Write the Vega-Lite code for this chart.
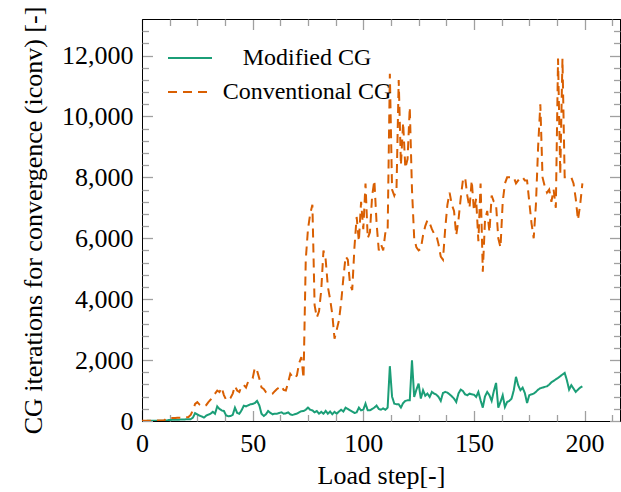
{
  "$schema": "https://vega.github.io/schema/vega-lite/v6.json",
  "width": 478,
  "height": 402,
  "autosize": {"type": "none"},
  "padding": {"left": 142, "top": 19, "right": 1, "bottom": 71},
  "config": {
    "view": {"stroke": "black", "strokeWidth": 1},
    "font": "Times New Roman, Liberation Serif, DejaVu Serif, serif",
    "axis": {"grid": false, "labelFont": "Times New Roman, Liberation Serif, DejaVu Serif, serif", "titleFont": "Times New Roman, Liberation Serif, DejaVu Serif, serif", "labelFontSize": 26, "titleFontSize": 26, "titleFontWeight": "normal", "labelColor": "black", "titleColor": "black", "domainColor": "black", "tickColor": "#a0a0a0", "tickWidth": 1.3, "labelFlush": false, "labelOverlap": false}
  },
  "data": {"values": [
    {"step":0,"Modified CG":0,"Conventional CG":5},{"step":1,"Modified CG":2,"Conventional CG":8},{"step":2,"Modified CG":4,"Conventional CG":10},{"step":3,"Modified CG":5,"Conventional CG":10},{"step":4,"Modified CG":6,"Conventional CG":12},{"step":5,"Modified CG":8,"Conventional CG":12},{"step":6,"Modified CG":8,"Conventional CG":15},{"step":7,"Modified CG":10,"Conventional CG":15},{"step":8,"Modified CG":10,"Conventional CG":18},{"step":9,"Modified CG":12,"Conventional CG":20},
    {"step":10,"Modified CG":12,"Conventional CG":20},{"step":11,"Modified CG":15,"Conventional CG":80},{"step":12,"Modified CG":30,"Conventional CG":90},{"step":13,"Modified CG":35,"Conventional CG":100},{"step":14,"Modified CG":40,"Conventional CG":100},{"step":15,"Modified CG":40,"Conventional CG":100},{"step":16,"Modified CG":45,"Conventional CG":110},{"step":17,"Modified CG":45,"Conventional CG":110},{"step":18,"Modified CG":50,"Conventional CG":100},{"step":19,"Modified CG":50,"Conventional CG":120},
    {"step":20,"Modified CG":55,"Conventional CG":120},{"step":21,"Modified CG":55,"Conventional CG":130},{"step":22,"Modified CG":60,"Conventional CG":200},{"step":23,"Modified CG":110,"Conventional CG":350},{"step":24,"Modified CG":260,"Conventional CG":560},{"step":25,"Modified CG":220,"Conventional CG":620},{"step":26,"Modified CG":175,"Conventional CG":540},{"step":27,"Modified CG":150,"Conventional CG":500},{"step":28,"Modified CG":110,"Conventional CG":480},{"step":29,"Modified CG":175,"Conventional CG":520},
    {"step":30,"Modified CG":210,"Conventional CG":620},{"step":31,"Modified CG":240,"Conventional CG":700},{"step":32,"Modified CG":300,"Conventional CG":820},{"step":33,"Modified CG":240,"Conventional CG":900},{"step":34,"Modified CG":480,"Conventional CG":1000},{"step":35,"Modified CG":395,"Conventional CG":950},{"step":36,"Modified CG":350,"Conventional CG":1100},{"step":37,"Modified CG":330,"Conventional CG":850},{"step":38,"Modified CG":185,"Conventional CG":700},{"step":39,"Modified CG":155,"Conventional CG":680},
    {"step":40,"Modified CG":165,"Conventional CG":760},{"step":41,"Modified CG":200,"Conventional CG":900},{"step":42,"Modified CG":440,"Conventional CG":1150},{"step":43,"Modified CG":265,"Conventional CG":1000},{"step":44,"Modified CG":240,"Conventional CG":950},{"step":45,"Modified CG":350,"Conventional CG":1150},{"step":46,"Modified CG":505,"Conventional CG":1180},{"step":47,"Modified CG":480,"Conventional CG":1100},{"step":48,"Modified CG":515,"Conventional CG":1300},{"step":49,"Modified CG":550,"Conventional CG":1350},
    {"step":50,"Modified CG":560,"Conventional CG":1400},{"step":51,"Modified CG":590,"Conventional CG":1750},{"step":52,"Modified CG":660,"Conventional CG":1650},{"step":53,"Modified CG":515,"Conventional CG":1400},{"step":54,"Modified CG":240,"Conventional CG":1100},{"step":55,"Modified CG":165,"Conventional CG":1050},{"step":56,"Modified CG":220,"Conventional CG":950},{"step":57,"Modified CG":330,"Conventional CG":920},{"step":58,"Modified CG":265,"Conventional CG":880},{"step":59,"Modified CG":220,"Conventional CG":900},
    {"step":60,"Modified CG":240,"Conventional CG":980},{"step":61,"Modified CG":240,"Conventional CG":1050},{"step":62,"Modified CG":265,"Conventional CG":1100},{"step":63,"Modified CG":285,"Conventional CG":1150},{"step":64,"Modified CG":240,"Conventional CG":1020},{"step":65,"Modified CG":250,"Conventional CG":1000},{"step":66,"Modified CG":285,"Conventional CG":1250},{"step":67,"Modified CG":220,"Conventional CG":1550},{"step":68,"Modified CG":200,"Conventional CG":1450},{"step":69,"Modified CG":220,"Conventional CG":1400},
    {"step":70,"Modified CG":240,"Conventional CG":1500},{"step":71,"Modified CG":285,"Conventional CG":1900},{"step":72,"Modified CG":320,"Conventional CG":2100},{"step":73,"Modified CG":330,"Conventional CG":1400},{"step":74,"Modified CG":370,"Conventional CG":5300},{"step":75,"Modified CG":440,"Conventional CG":6300},{"step":76,"Modified CG":370,"Conventional CG":6800},{"step":77,"Modified CG":350,"Conventional CG":7100},{"step":78,"Modified CG":285,"Conventional CG":3800},{"step":79,"Modified CG":330,"Conventional CG":3400},
    {"step":80,"Modified CG":240,"Conventional CG":3600},{"step":81,"Modified CG":300,"Conventional CG":4300},{"step":82,"Modified CG":240,"Conventional CG":5600},{"step":83,"Modified CG":330,"Conventional CG":5300},{"step":84,"Modified CG":240,"Conventional CG":4400},{"step":85,"Modified CG":310,"Conventional CG":4000},{"step":86,"Modified CG":220,"Conventional CG":3500},{"step":87,"Modified CG":300,"Conventional CG":2700},{"step":88,"Modified CG":240,"Conventional CG":3000},{"step":89,"Modified CG":310,"Conventional CG":3300},
    {"step":90,"Modified CG":370,"Conventional CG":3900},{"step":91,"Modified CG":310,"Conventional CG":4700},{"step":92,"Modified CG":440,"Conventional CG":5400},{"step":93,"Modified CG":395,"Conventional CG":5300},{"step":94,"Modified CG":350,"Conventional CG":4500},{"step":95,"Modified CG":310,"Conventional CG":4300},{"step":96,"Modified CG":265,"Conventional CG":5700},{"step":97,"Modified CG":285,"Conventional CG":6700},{"step":98,"Modified CG":440,"Conventional CG":5900},{"step":99,"Modified CG":350,"Conventional CG":7200},
    {"step":100,"Modified CG":370,"Conventional CG":6300},{"step":101,"Modified CG":570,"Conventional CG":7800},{"step":102,"Modified CG":350,"Conventional CG":6000},{"step":103,"Modified CG":350,"Conventional CG":6200},{"step":104,"Modified CG":395,"Conventional CG":7400},{"step":105,"Modified CG":440,"Conventional CG":7900},{"step":106,"Modified CG":505,"Conventional CG":6500},{"step":107,"Modified CG":395,"Conventional CG":5600},{"step":108,"Modified CG":370,"Conventional CG":5800},{"step":109,"Modified CG":415,"Conventional CG":5600},
    {"step":110,"Modified CG":370,"Conventional CG":6200},{"step":111,"Modified CG":440,"Conventional CG":6200},{"step":112,"Modified CG":1800,"Conventional CG":11400},{"step":113,"Modified CG":800,"Conventional CG":7600},{"step":114,"Modified CG":570,"Conventional CG":7400},{"step":115,"Modified CG":550,"Conventional CG":7600},{"step":116,"Modified CG":550,"Conventional CG":11200},{"step":117,"Modified CG":440,"Conventional CG":8400},{"step":118,"Modified CG":590,"Conventional CG":9800},{"step":119,"Modified CG":660,"Conventional CG":8300},
    {"step":120,"Modified CG":680,"Conventional CG":8600},{"step":121,"Modified CG":680,"Conventional CG":10300},{"step":122,"Modified CG":1995,"Conventional CG":7600},{"step":123,"Modified CG":790,"Conventional CG":6000},{"step":124,"Modified CG":1030,"Conventional CG":5700},{"step":125,"Modified CG":1230,"Conventional CG":5600},{"step":126,"Modified CG":735,"Conventional CG":5650},{"step":127,"Modified CG":1010,"Conventional CG":6100},{"step":128,"Modified CG":830,"Conventional CG":6400},{"step":129,"Modified CG":900,"Conventional CG":6600},
    {"step":130,"Modified CG":790,"Conventional CG":6500},{"step":131,"Modified CG":955,"Conventional CG":6300},{"step":132,"Modified CG":900,"Conventional CG":6150},{"step":133,"Modified CG":865,"Conventional CG":6100},{"step":134,"Modified CG":790,"Conventional CG":5800},{"step":135,"Modified CG":660,"Conventional CG":5400},{"step":136,"Modified CG":920,"Conventional CG":5300},{"step":137,"Modified CG":955,"Conventional CG":6300},{"step":138,"Modified CG":930,"Conventional CG":7100},{"step":139,"Modified CG":875,"Conventional CG":7500},
    {"step":140,"Modified CG":810,"Conventional CG":7100},{"step":141,"Modified CG":735,"Conventional CG":6900},{"step":142,"Modified CG":625,"Conventional CG":6100},{"step":143,"Modified CG":900,"Conventional CG":6600},{"step":144,"Modified CG":1030,"Conventional CG":7300},{"step":145,"Modified CG":985,"Conventional CG":7900},{"step":146,"Modified CG":875,"Conventional CG":8000},{"step":147,"Modified CG":845,"Conventional CG":7400},{"step":148,"Modified CG":900,"Conventional CG":7000},{"step":149,"Modified CG":875,"Conventional CG":7900},
    {"step":150,"Modified CG":865,"Conventional CG":6900},{"step":151,"Modified CG":790,"Conventional CG":7300},{"step":152,"Modified CG":955,"Conventional CG":5900},{"step":153,"Modified CG":680,"Conventional CG":7800},{"step":154,"Modified CG":440,"Conventional CG":4900},{"step":155,"Modified CG":810,"Conventional CG":6600},{"step":156,"Modified CG":955,"Conventional CG":6900},{"step":157,"Modified CG":845,"Conventional CG":6200},{"step":158,"Modified CG":660,"Conventional CG":7400},{"step":159,"Modified CG":985,"Conventional CG":7200},
    {"step":160,"Modified CG":1250,"Conventional CG":7100},{"step":161,"Modified CG":440,"Conventional CG":6000},{"step":162,"Modified CG":625,"Conventional CG":5700},{"step":163,"Modified CG":845,"Conventional CG":7200},{"step":164,"Modified CG":460,"Conventional CG":7800},{"step":165,"Modified CG":625,"Conventional CG":8000},{"step":166,"Modified CG":660,"Conventional CG":8000},{"step":167,"Modified CG":735,"Conventional CG":8000},{"step":168,"Modified CG":1010,"Conventional CG":8000},{"step":169,"Modified CG":1450,"Conventional CG":7800},
    {"step":170,"Modified CG":1175,"Conventional CG":7900},{"step":171,"Modified CG":1010,"Conventional CG":8000},{"step":172,"Modified CG":1095,"Conventional CG":8000},{"step":173,"Modified CG":920,"Conventional CG":7900},{"step":174,"Modified CG":590,"Conventional CG":7900},{"step":175,"Modified CG":845,"Conventional CG":7200},{"step":176,"Modified CG":875,"Conventional CG":6500},{"step":177,"Modified CG":900,"Conventional CG":6000},{"step":178,"Modified CG":955,"Conventional CG":7100},{"step":179,"Modified CG":1030,"Conventional CG":9000},
    {"step":180,"Modified CG":1075,"Conventional CG":10400},{"step":181,"Modified CG":1095,"Conventional CG":8000},{"step":182,"Modified CG":1120,"Conventional CG":7700},{"step":183,"Modified CG":1140,"Conventional CG":7500},{"step":184,"Modified CG":1195,"Conventional CG":7600},{"step":185,"Modified CG":1270,"Conventional CG":7200},{"step":186,"Modified CG":1315,"Conventional CG":7600},{"step":187,"Modified CG":1370,"Conventional CG":7000},{"step":188,"Modified CG":1415,"Conventional CG":11900},{"step":189,"Modified CG":1470,"Conventional CG":8100},
    {"step":190,"Modified CG":1525,"Conventional CG":11900},{"step":191,"Modified CG":1580,"Conventional CG":8000},{"step":192,"Modified CG":1340,"Conventional CG":8000},{"step":193,"Modified CG":1030,"Conventional CG":8000},{"step":194,"Modified CG":1175,"Conventional CG":8000},{"step":195,"Modified CG":1065,"Conventional CG":7800},{"step":196,"Modified CG":955,"Conventional CG":7300},{"step":197,"Modified CG":1030,"Conventional CG":6600},{"step":198,"Modified CG":1095,"Conventional CG":7100},{"step":199,"Modified CG":1140,"Conventional CG":7800}
  ]},
  "transform": [{"fold": ["Modified CG", "Conventional CG"], "as": ["series", "value"]}],
  "resolve": {"axis": {"x": "independent", "y": "independent"}},
  "layer": [
    {
      "mark": {"type": "line", "strokeWidth": 2, "clip": true},
      "encoding": {
        "x": {"field": "step", "type": "quantitative", "scale": {"domain": [0, 216], "nice": false, "zero": false},
          "axis": {"orient": "bottom", "values": [0, 50, 100, 150, 200], "tickSize": -10.5, "labelPadding": 19.5, "title": "Load step[-]", "titlePadding": 6}},
        "y": {"field": "value", "type": "quantitative", "scale": {"domain": [0, 13200], "nice": false},
          "axis": {"orient": "left", "values": [0, 2000, 4000, 6000, 8000, 10000, 12000], "labelExpr": "format(datum.value, ',')", "tickSize": -10.5, "labelPadding": 19.5, "title": "CG iterations for convergence (iconv) [-]", "titlePadding": 15}},
        "color": {"field": "series", "type": "nominal", "sort": ["Modified CG", "Conventional CG"],
          "scale": {"domain": ["Modified CG", "Conventional CG"], "range": ["#1b9e77", "#d95f02"]},
          "legend": {"orient": "none", "legendX": 25, "legendY": 24, "title": null, "padding": 0, "symbolType": "stroke", "symbolSize": 1936, "symbolStrokeWidth": 2, "labelFont": "Times New Roman, Liberation Serif, DejaVu Serif, serif", "labelFontSize": 24, "labelColor": "black", "labelAlign": "center", "labelOffset": 94, "clipHeight": 30, "rowPadding": 4, "labelLimit": 400}},
        "strokeDash": {"field": "series", "type": "nominal", "sort": ["Modified CG", "Conventional CG"],
          "scale": {"domain": ["Modified CG", "Conventional CG"], "range": [[1, 0], [9, 6]]},
          "legend": null}
      }
    },
    {
      "mark": {"type": "point", "opacity": 0},
      "encoding": {
        "x": {"field": "step", "type": "quantitative",
          "axis": {"orient": "bottom", "values": [12.5, 25, 37.5, 62.5, 75, 87.5, 112.5, 125, 137.5, 162.5, 175, 187.5, 212.5], "tickSize": -6.5, "labels": false, "domain": false, "title": null}},
        "y": {"field": "value", "type": "quantitative",
          "axis": {"orient": "left", "values": [400, 800, 1200, 1600, 2400, 2800, 3200, 3600, 4400, 4800, 5200, 5600, 6400, 6800, 7200, 7600, 8400, 8800, 9200, 9600, 10400, 10800, 11200, 11600, 12400, 12800], "tickSize": -6.5, "labels": false, "domain": false, "title": null}}
      }
    },
    {
      "mark": {"type": "point", "opacity": 0},
      "encoding": {
        "x": {"field": "step", "type": "quantitative",
          "axis": {"orient": "top", "values": [0, 50, 100, 150, 200], "tickSize": -10.5, "labels": false, "title": null}},
        "y": {"field": "value", "type": "quantitative",
          "axis": {"orient": "right", "values": [0, 2000, 4000, 6000, 8000, 10000, 12000], "tickSize": -10.5, "labels": false, "title": null}}
      }
    },
    {
      "mark": {"type": "point", "opacity": 0},
      "encoding": {
        "x": {"field": "step", "type": "quantitative",
          "axis": {"orient": "top", "values": [12.5, 25, 37.5, 62.5, 75, 87.5, 112.5, 125, 137.5, 162.5, 175, 187.5, 212.5], "tickSize": -6.5, "labels": false, "domain": false, "title": null}},
        "y": {"field": "value", "type": "quantitative",
          "axis": {"orient": "right", "values": [400, 800, 1200, 1600, 2400, 2800, 3200, 3600, 4400, 4800, 5200, 5600, 6400, 6800, 7200, 7600, 8400, 8800, 9200, 9600, 10400, 10800, 11200, 11600, 12400, 12800], "tickSize": -6.5, "labels": false, "domain": false, "title": null}}
      }
    }
  ]
}
